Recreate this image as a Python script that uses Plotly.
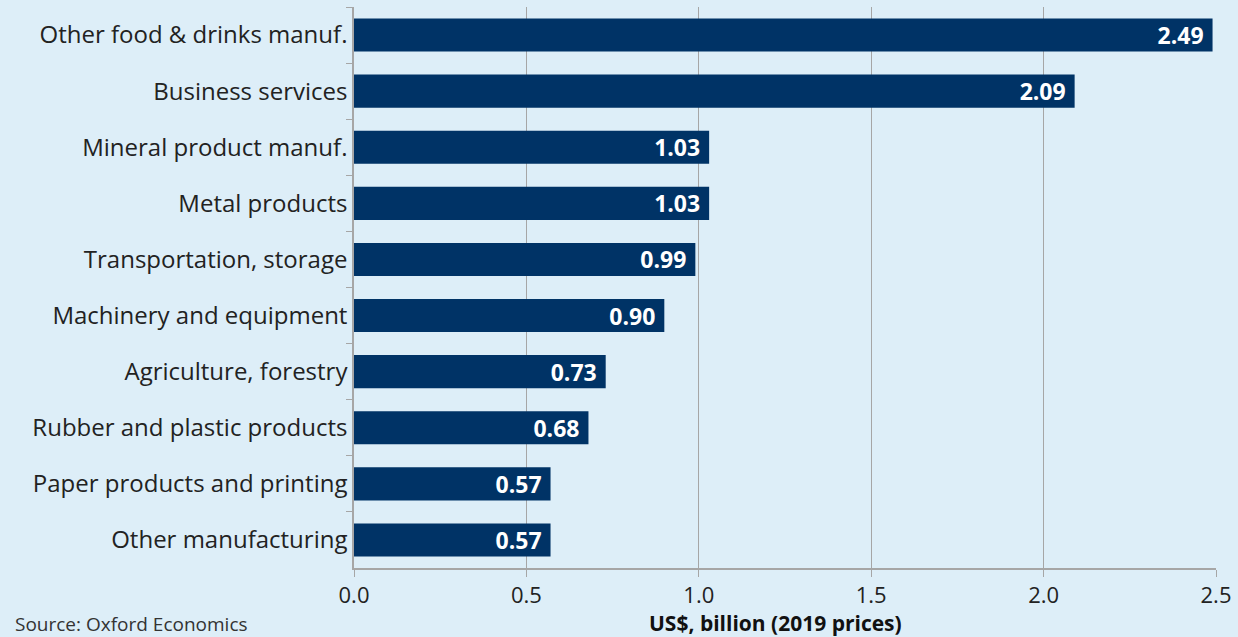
import plotly.graph_objects as go

categories = [
    "Other food & drinks manuf.",
    "Business services",
    "Mineral product manuf.",
    "Metal products",
    "Transportation, storage",
    "Machinery and equipment",
    "Agriculture, forestry",
    "Rubber and plastic products",
    "Paper products and printing",
    "Other manufacturing",
]
values = [2.49, 2.09, 1.03, 1.03, 0.99, 0.90, 0.73, 0.68, 0.57, 0.57]
x_ticks = [0.0, 0.5, 1.0, 1.5, 2.0, 2.5]

W, H = 1238, 637
ML, MR, MT, MB = 354, 19, 7, 69
PW = W - ML - MR
PH = H - MT - MB

bg = "#ddeef8"
bar_color = "#003366"
grid = "#a6a6a6"
font_family = "'Open Sans', 'Noto Sans', sans-serif"

fig = go.Figure(
    go.Bar(
        x=values,
        y=categories,
        orientation="h",
        marker=dict(color=bar_color, line=dict(width=0)),
        text=[f"{v:.2f}\u00a0" for v in values],
        textposition="inside",
        insidetextanchor="end",
        constraintext="none",
        textfont=dict(color="white", size=23, family=font_family, weight="bold"),
        cliponaxis=False,
    )
)

fig.update_layout(
    width=W,
    height=H,
    paper_bgcolor=bg,
    plot_bgcolor=bg,
    margin=dict(l=ML, r=MR, t=MT, b=MB),
    bargap=0.41,
    showlegend=False,
    font=dict(family=font_family, color="#222222"),
)

fig.update_xaxes(
    range=[0, 2.5],
    tickvals=x_ticks,
    ticktext=[f"{t:.1f}" for t in x_ticks],
    showgrid=True,
    gridcolor=grid,
    gridwidth=1,
    zeroline=False,
    showline=True,
    linecolor=grid,
    linewidth=1.5,
    ticks="outside",
    ticklen=7,
    tickcolor=grid,
    tickfont=dict(size=22, color="#222222"),
)

fig.update_yaxes(
    autorange="reversed",
    showline=True,
    linecolor=grid,
    linewidth=1.5,
    ticks="outside",
    tickson="boundaries",
    ticklen=6,
    tickcolor=grid,
    tickfont=dict(size=24, color="#222222"),
    showgrid=False,
)

# x-axis title
fig.add_annotation(
    text="<b>US$, billion (2019 prices)</b>",
    xref="paper", yref="paper",
    x=(777 - ML) / PW, y=0, yshift=-(623 - (H - MB)),
    xanchor="center", yanchor="middle",
    showarrow=False,
    font=dict(size=21, color="#111111"),
)

# source note
fig.add_annotation(
    text="Source: Oxford Economics",
    xref="paper", yref="paper",
    x=(12 - ML) / PW, y=0, yshift=-(624 - (H - MB)),
    xanchor="left", yanchor="middle",
    showarrow=False,
    font=dict(size=19, color="#333333"),
)

fig.write_html(
    "out.html",
    config={"displayModeBar": False},
    post_script="document.body.style.margin='0';document.body.style.background='%s';" % bg,
)
